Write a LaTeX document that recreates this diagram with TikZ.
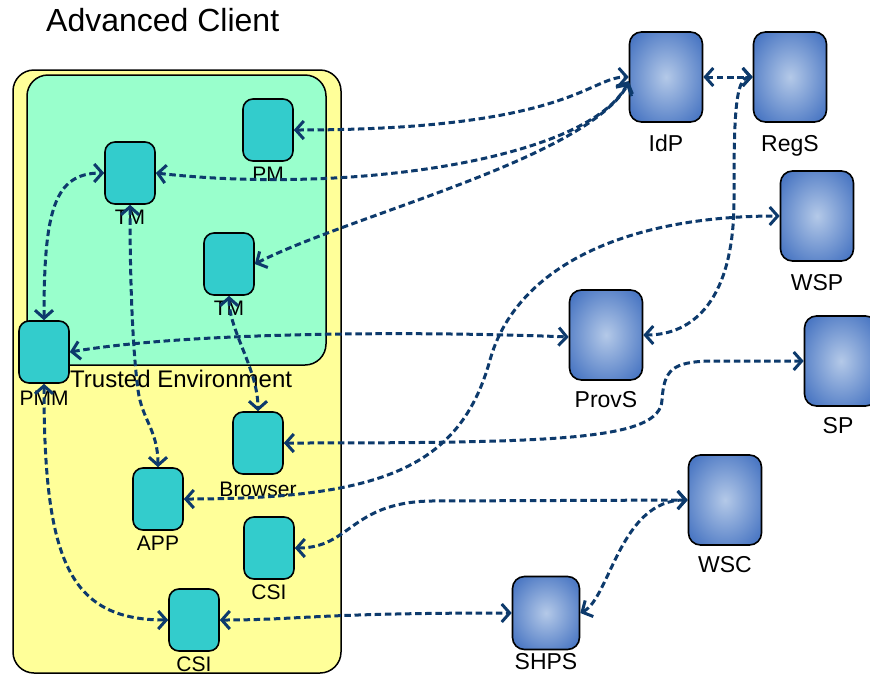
\documentclass[tikz,border=0pt]{standalone}
\usepackage{fontspec}
\setmainfont{Liberation Sans}
\usetikzlibrary{arrows.meta}

\definecolor{linkblue}{HTML}{0D3A6C}
\definecolor{unitfill}{HTML}{33CCCC}
\definecolor{trustfill}{HTML}{99FFCC}
\definecolor{clientfill}{HTML}{FFFF99}
\definecolor{srvin}{HTML}{B4C9E8}
\definecolor{srvout}{HTML}{4472C1}

% soft glow for the server boxes: light centre fading to blue near the edges
\pgfdeclareradialshading{srvglow}{\pgfpoint{0bp}{0bp}}{%
  color(0bp)=(srvin); color(33bp)=(srvout); color(50bp)=(srvout)}

\tikzset{
  container/.style={draw=black, line width=1.5pt, rounded corners=21pt, inner sep=0pt},
  unitbox/.style={draw=black, line width=1.6pt, rounded corners=10pt, fill=unitfill,
    minimum width=50pt, minimum height=62pt, inner sep=0pt},
  server/.style={draw=black, line width=1.6pt, rounded corners=12pt,
    shading=srvglow,
    minimum width=73pt, minimum height=90pt, inner sep=0pt},
  ulabel/.style={font=\fontsize{21}{24}\selectfont, inner sep=0pt, anchor=base},
  slabel/.style={font=\fontsize{23}{27}\selectfont, inner sep=0pt, anchor=base},
  link/.style={draw=linkblue, line width=3pt, dash pattern=on 6.5pt off 3.6pt,
    {Straight Barb[length=8pt,width=18pt]}-{Straight Barb[length=8pt,width=18pt]}},
}

\begin{document}
\begin{tikzpicture}[x=1pt, y=-1pt]
\useasboundingbox (0,0) rectangle (870,675);
\clip (0,0) rectangle (870,675);

% containers
\node[container, fill=clientfill, minimum width=328pt, minimum height=603pt] (client) at (177,371.5) {};
\node[container, fill=trustfill, minimum width=299pt, minimum height=290pt] (trusted) at (176.5,220) {};
\node[anchor=base west, font=\fontsize{32}{37}\selectfont, inner sep=0pt] (title) at (46,31) {Advanced Client};
\node[anchor=base west, font=\fontsize{24}{28}\selectfont, inner sep=0pt] (trustedL) at (70,387) {Trusted Environment};

% client-side units
\node[unitbox] (pm) at (268,130) {};
\node[unitbox] (tmA) at (130,173) {};
\node[unitbox] (tmB) at (229,264) {};
\node[unitbox] (pmm) at (44,352) {};
\node[unitbox] (browser) at (258,443) {};
\node[unitbox] (app) at (158,499) {};
\node[unitbox] (csiA) at (269,548) {};
\node[unitbox] (csiB) at (194,620) {};

\node[ulabel] (pmL) at ([yshift=-20pt]pm.south) {PM};
\node[ulabel] (tmAL) at ([yshift=-20pt]tmA.south) {TM};
\node[ulabel] (tmBL) at ([yshift=-20pt]tmB.south) {TM};
\node[ulabel] (pmmL) at ([yshift=-22pt]pmm.south) {PMM};
\node[ulabel] (browserL) at ([yshift=-22pt]browser.south) {Browser};
\node[ulabel] (appL) at ([yshift=-20pt]app.south) {APP};
\node[ulabel] (csiAL) at ([yshift=-20pt]csiA.south) {CSI};
\node[ulabel] (csiBL) at ([yshift=-20pt]csiB.south) {CSI};

% servers
\node[server] (idp) at (666,77) {};
\node[server] (regs) at (790,77) {};
\node[server] (wsp) at (817,216) {};
\node[server] (provs) at (606,335) {};
\node[server] (sp) at (841,361) {};
\node[server] (wsc) at (725,500) {};
\node[server, minimum width=67pt, minimum height=73pt] (shps) at (546,613) {};

\node[slabel] (idpL) at ([yshift=-29pt]idp.south) {IdP};
\node[slabel] (regsL) at ([yshift=-29pt]regs.south) {RegS};
\node[slabel] (wspL) at ([yshift=-29pt]wsp.south) {WSP};
\node[slabel] (provsL) at ([yshift=-27pt]provs.south) {ProvS};
\node[slabel] (spL) at ([yshift=-27pt,xshift=-3pt]sp.south) {SP};
\node[slabel] (wscL) at ([yshift=-27pt]wsc.south) {WSC};
\node[slabel] (shpsL) at ([yshift=-19pt]shps.south) {SHPS};

% connectors
\draw[link] (pm.east) .. controls +(275,0) and +(-40,0) .. (idp.west);
\draw[link] (tmA.east) .. controls +(195,22) and +(-38,78) .. ([yshift=-4pt]idp.west);
\draw[link] (tmB.east) .. controls +(96,-49) and +(-44,76) .. ([yshift=-6pt]idp.west);
\draw[link] (idp.east) -- (regs.west);
\draw[link] (regs.west) .. controls +(-18,0) and (734,120) .. (734,200)
  .. controls (734,300) and +(50,0) .. (provs.east);
\draw[link] (pmm.east) .. controls +(131,-22) and +(-120,-5) .. ([yshift=-2pt]provs.west);
\draw[link] (app.east) .. controls +(197,0) and (460,468) .. (490,360)
  .. controls (515,270) and +(-160,0) .. (wsp.west);
\draw[link] (browser.east) .. controls +(277,0) and (660,440) .. (662,400)
  .. controls (664,370) and (672,362) .. (710,361) -- (sp.west);
\draw[link] (csiA.east) .. controls +(56,0) and (350,503) .. (430,501) -- (wsc.west);
\draw[link] (shps.east) .. controls (610,598) and (620,500) .. (wsc.west);
\draw[link] (csiB.east) .. controls +(80,0) and +(-200,0) .. (shps.west);
\draw[link] (pmm.north) .. controls +(0,-110) and +(-50,0) .. (tmA.west);
\draw[link] (pmm.south) .. controls +(0,177) and +(-99,0) .. (csiB.west);
\draw[link] (tmA.south) .. controls (130,300) and (134,360) .. (138,390)
  .. controls (142,420) and (158,430) .. (app.north);
\draw[link] (tmB.south) .. controls +(0,35) and +(0,-42) .. (browser.north);
\end{tikzpicture}
\end{document}
